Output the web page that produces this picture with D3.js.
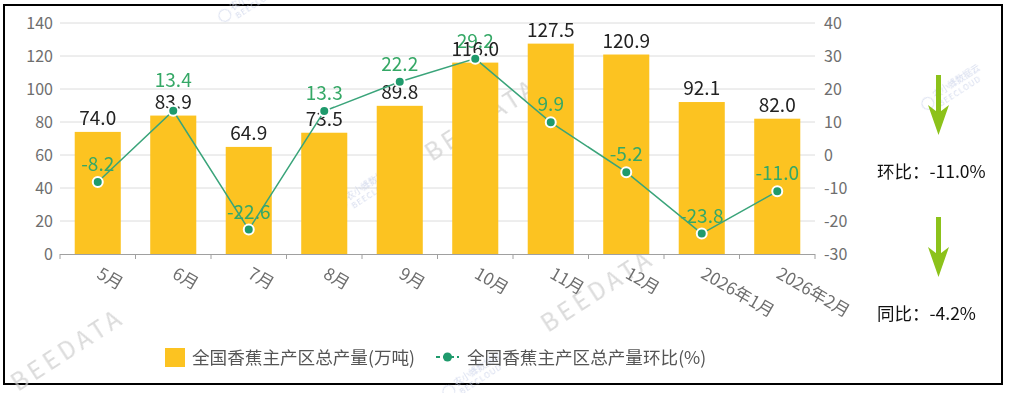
<!DOCTYPE html>
<html>
<head>
<meta charset="utf-8">
<script src="https://cdn.jsdelivr.net/npm/d3@7"></script>
<style>
  body { margin: 0; background: #fff; }
  svg { display: block; font-family: "Noto Sans CJK SC", "Noto Sans", sans-serif; }
</style>
</head>
<body>
<svg id="chart" width="1009" height="393"></svg>
<script>
// monthly output of the main banana regions
const months = ["5月", "6月", "7月", "8月", "9月", "10月", "11月", "12月", "2026年1月", "2026年2月"];
const output = [74.0, 83.9, 64.9, 73.5, 89.8, 116.0, 127.5, 120.9, 92.1, 82.0];
const momRate = [-8.2, 13.4, -22.6, 13.3, 22.2, 29.2, 9.9, -5.2, -23.8, -11.0];
const leftTicks = [0, 20, 40, 60, 80, 100, 120, 140];
const rightTicks = [-30, -20, -10, 0, 10, 20, 30, 40];
const seriesNames = ["全国香蕉主产区总产量(万吨)", "全国香蕉主产区总产量环比(%)"];
const notes = [["环比", "-11.0%"], ["同比", "-4.2%"]];

const barColor = "#fcc321";
const lineColor = "#3aa47a";
const dotColor = "#1f9a6c";
const labelGreen = "#35a866";
const axisGray = "#6e6e6e";

const svg = d3.select("#chart");
const plotL = 60, plotR = 815, plotT = 23, plotB = 254;

// border
svg.append("rect").attr("x", 4).attr("y", 5).attr("width", 998).attr("height", 379)
  .attr("fill", "none").attr("stroke", "#000").attr("stroke-width", 2);

const x = d3.scaleBand().domain(months).range([plotL, plotR]).paddingInner(0.39).paddingOuter(0.195);
const yL = d3.scaleLinear().domain([0, 140]).range([plotB, plotT]);
const yR = d3.scaleLinear().domain([-30, 40]).range([plotB, plotT]);

// grid
svg.append("g").selectAll("line").data(leftTicks.slice(1)).join("line")
  .attr("x1", plotL).attr("x2", plotR)
  .attr("y1", d => yL(d)).attr("y2", d => yL(d))
  .attr("stroke", "#dcdcdc").attr("stroke-width", 1);

// left axis labels
svg.append("g").selectAll("text").data(leftTicks).join("text")
  .attr("x", plotL - 7).attr("y", d => yL(d)).attr("dy", "0.35em")
  .attr("text-anchor", "end").attr("font-size", 16).attr("fill", axisGray)
  .text(d => d);

// right axis labels
svg.append("g").selectAll("text").data(rightTicks).join("text")
  .attr("x", plotR + 9).attr("y", d => yR(d)).attr("dy", "0.35em")
  .attr("text-anchor", "start").attr("font-size", 16).attr("fill", axisGray)
  .text(d => d);

// watermarks
const wm = svg.append("g").attr("fill", "#cfcfcf").attr("opacity", 0.75);
[[432, 162, 24], [18, 392, 24], [548, 333, 24]].forEach(([wx, wy, fs]) => {
  wm.append("text").attr("transform", `translate(${wx},${wy}) rotate(-33)`)
    .attr("font-size", fs).attr("letter-spacing", 4).text("BEEDATA");
});
[[338, 212], [925, 110], [446, 398], [222, 22]].forEach(([wx, wy]) => {
  const g = wm.append("g").attr("transform", `translate(${wx},${wy}) rotate(-33)`);
  g.append("circle").attr("cx", 6).attr("cy", -4).attr("r", 6).attr("fill", "none").attr("stroke", "#c8d0e8");
  g.append("text").attr("x", 15).attr("y", -4).attr("font-size", 9).attr("fill", "#c8d0e8").text("农小蜂数据云");
  g.append("text").attr("x", 15).attr("y", 6).attr("font-size", 8).attr("fill", "#c8d0e8").attr("letter-spacing", 1).text("BEECLOUD");
});

// bars
svg.append("g").selectAll("rect").data(output).join("rect")
  .attr("x", (d, i) => x(months[i])).attr("width", x.bandwidth())
  .attr("y", d => yL(d)).attr("height", d => plotB - yL(d))
  .attr("fill", barColor);

// x axis line and ticks
const xa = svg.append("g").attr("stroke", "#a0a0a0").attr("stroke-width", 1);
xa.append("line").attr("x1", plotL).attr("x2", plotR).attr("y1", plotB + 0.5).attr("y2", plotB + 0.5);
const edges = months.map(m => x(m) - x.step() * x.paddingInner() / 2).concat([plotR]);
xa.selectAll("line.t").data(edges).join("line").attr("class", "t")
  .attr("x1", d => d).attr("x2", d => d).attr("y1", plotB).attr("y2", plotB + 5);

// x labels
svg.append("g").selectAll("text").data(months).join("text")
  .attr("transform", d => `translate(${x(d) + x.bandwidth() / 2 + 1},${plotB + 18}) rotate(30)`)
  .attr("dy", "0.35em").attr("font-size", 17).attr("fill", axisGray)
  .text(d => d);

const cx = i => x(months[i]) + x.bandwidth() / 2;

// bar value boxes (for simple label collision)
const barLbl = output.map(v => ({ top: yL(v) - 24, bottom: yL(v) - 7 }));

// line labels
svg.append("g").selectAll("text").data(momRate).join("text")
  .attr("x", (d, i) => cx(i))
  .attr("y", (d, i) => {
    let base = yR(d) - 11;
    const b = barLbl[i];
    // 6月 label is pushed above the bar value, as in the source
    if (i === 1 && base - 15 < b.bottom && base > b.top) base = b.top - 5;
    return base;
  })
  .attr("text-anchor", "middle").attr("font-size", 19).attr("fill", labelGreen)
  .text(d => d.toFixed(1));

// bar labels
svg.append("g").selectAll("text").data(output).join("text")
  .attr("x", (d, i) => cx(i)).attr("y", d => yL(d) - 7)
  .attr("text-anchor", "middle").attr("font-size", 19).attr("fill", "#222")
  .text(d => d.toFixed(1));

// line and points
const line = d3.line().x((d, i) => cx(i)).y(d => yR(d));
svg.append("path").datum(momRate).attr("d", line)
  .attr("fill", "none").attr("stroke", lineColor).attr("stroke-width", 1.5);
svg.append("g").selectAll("circle").data(momRate).join("circle")
  .attr("cx", (d, i) => cx(i)).attr("cy", d => yR(d)).attr("r", 5)
  .attr("fill", dotColor).attr("stroke", "#fff").attr("stroke-width", 2);

// legend
const lg = svg.append("g").attr("font-size", 17.6).attr("fill", "#555");
lg.append("rect").attr("x", 165).attr("y", 348).attr("width", 20).attr("height", 19).attr("fill", barColor);
lg.append("text").attr("x", 192).attr("y", 358).attr("dy", "0.35em").text(seriesNames[0]);
lg.append("line").attr("x1", 436).attr("x2", 459).attr("y1", 357).attr("y2", 357)
  .attr("stroke", dotColor).attr("stroke-width", 2).attr("stroke-dasharray", "4,3");
lg.append("circle").attr("cx", 447.5).attr("cy", 357).attr("r", 4.5).attr("fill", dotColor);
lg.append("text").attr("x", 467).attr("y", 358).attr("dy", "0.35em").text(seriesNames[1]);

// side notes with arrows
const arrowColor = "#8cc21a";
notes.forEach(([k, v], j) => {
  const ay = 75 + j * 142;
  const g = svg.append("g");
  g.append("rect").attr("x", 936).attr("y", ay).attr("width", 5).attr("height", 40).attr("fill", arrowColor);
  g.append("path")
    .attr("d", `M928,${ay + 30} L938.5,${ay + 38} L949,${ay + 30} L938.5,${ay + 60} Z`)
    .attr("fill", arrowColor);
  g.append("text").attr("x", 877).attr("y", ay + 97).attr("dy", "0.35em")
    .attr("font-size", 17.5).attr("fill", "#111").text(`${k}：${v}`);
});
</script>
</body>
</html>
